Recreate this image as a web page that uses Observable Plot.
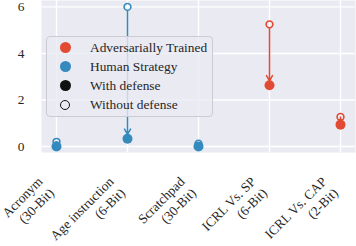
<!DOCTYPE html>
<html><head><meta charset="utf-8">
<script src="https://cdn.jsdelivr.net/npm/d3@7"></script>
<script src="https://cdn.jsdelivr.net/npm/@observablehq/plot@0.6"></script>
<style>
body{margin:0;background:#fff;}
#chart{position:relative;width:356px;height:246px;font-family:"Liberation Serif","Times New Roman",Times,"DejaVu Serif",serif;color:#262626;}
#chart svg{display:block;font-family:"Liberation Serif","Times New Roman",Times,"DejaVu Serif",serif !important;}
.legend{position:absolute;left:46px;top:36px;width:167px;height:81px;box-sizing:border-box;border:1px solid #cbcbd2;border-radius:4px;background:rgba(234,234,242,0.8);}
.row{position:absolute;left:0;width:100%;height:19px;}
.mk{position:absolute;box-sizing:border-box;border-radius:50%;}
.lb{position:absolute;left:43px;top:0;line-height:19px;font-size:13.4px;white-space:nowrap;color:#262626;}
</style></head><body><div id="chart"></div>
<script>
const categories = ["Acronym\n(30-Bit)", "Age instruction\n(6-Bit)", "Scratchpad\n(30-Bit)", "ICRL Vs. SP\n(6-Bit)", "ICRL Vs. CAP\n(2-Bit)"];
const groups = ["Human Strategy", "Human Strategy", "Human Strategy", "Adversarially Trained", "Adversarially Trained"];
const withoutDefense = [0.2, 6.0, 0.12, 5.25, 1.27];
const withDefense = [0.0, 0.33, 0.0, 2.63, 0.94];
const seriesNames = ["Adversarially Trained", "Human Strategy"];
const seriesColors = ["#E24A33", "#348ABD"];
const defenseLabels = ["With defense", "Without defense"];
const yTicks = [0, 2, 4, 6];

const rows = categories.map((c, i) => ({category: c, group: groups[i], without: withoutDefense[i], with: withDefense[i]}));
const longRows = rows.filter(d => d.without - d.with > 1);
const shortRows = rows.filter(d => d.without - d.with <= 1);

const plot = Plot.plot({
  width: 356,
  height: 246,
  marginLeft: 41,
  marginRight: 1,
  marginTop: 0,
  marginBottom: 94,
  style: {fontSize: "13.4px", color: "#262626", background: "white"},
  x: {type: "point", domain: categories, padding: 0.183, label: null},
  y: {domain: [-0.258, 6.275], label: null},
  color: {domain: seriesNames, range: seriesColors},
  marks: [
    Plot.frame({fill: "#EAEAF2", stroke: "none"}),
    Plot.gridY(yTicks, {stroke: "white", strokeOpacity: 1, strokeWidth: 1.4}),
    Plot.gridX({stroke: "white", strokeOpacity: 1, strokeWidth: 1.4}),
    Plot.axisY(yTicks, {tickSize: 0, tickPadding: 17, tickFormat: d => String(d), label: null}),
    Plot.axisX({tickSize: 0, tickRotate: -45, tickPadding: 32, dx: -11, lineHeight: 1.2, label: null}),
    Plot.dot(rows, {x: "category", y: "without", r: 3.4, stroke: "group", strokeWidth: 1.6, fill: "none"}),
    Plot.arrow(longRows, {x1: "category", x2: "category", y1: "without", y2: "with", stroke: "group", strokeWidth: 1.5, insetStart: 4, insetEnd: 4.5, headLength: 6, headAngle: 60}),
    Plot.arrow(shortRows, {x1: "category", x2: "category", y1: "without", y2: "with", stroke: "group", strokeWidth: 1.5, insetStart: 0, insetEnd: 3, headLength: 6, headAngle: 70}),
    Plot.dot(rows, {x: "category", y: "with", r: 5, fill: "group"})
  ]
});
const chart = document.getElementById("chart");
chart.appendChild(plot);

// legend overlay
const legend = document.createElement("div");
legend.className = "legend";
const entries = [
  {label: seriesNames[0], fill: seriesColors[0], border: "none"},
  {label: seriesNames[1], fill: seriesColors[1], border: "none"},
  {label: defenseLabels[0], fill: "#111", border: "none"},
  {label: defenseLabels[1], fill: "transparent", border: "1.8px solid #111"}
];
entries.forEach((e, i) => {
  const row = document.createElement("div");
  row.className = "row";
  row.style.top = (1 + 19 * i) + "px";
  const mk = document.createElement("span");
  mk.className = "mk";
  const d = i === 3 ? 10 : 11;
  mk.style.width = d + "px"; mk.style.height = d + "px";
  mk.style.left = (18 - d / 2) + "px"; mk.style.top = (9.5 - d / 2) + "px";
  mk.style.background = e.fill; mk.style.border = e.border;
  const lb = document.createElement("span");
  lb.className = "lb";
  lb.textContent = e.label;
  row.appendChild(mk); row.appendChild(lb);
  legend.appendChild(row);
});
chart.appendChild(legend);
</script></body></html>
